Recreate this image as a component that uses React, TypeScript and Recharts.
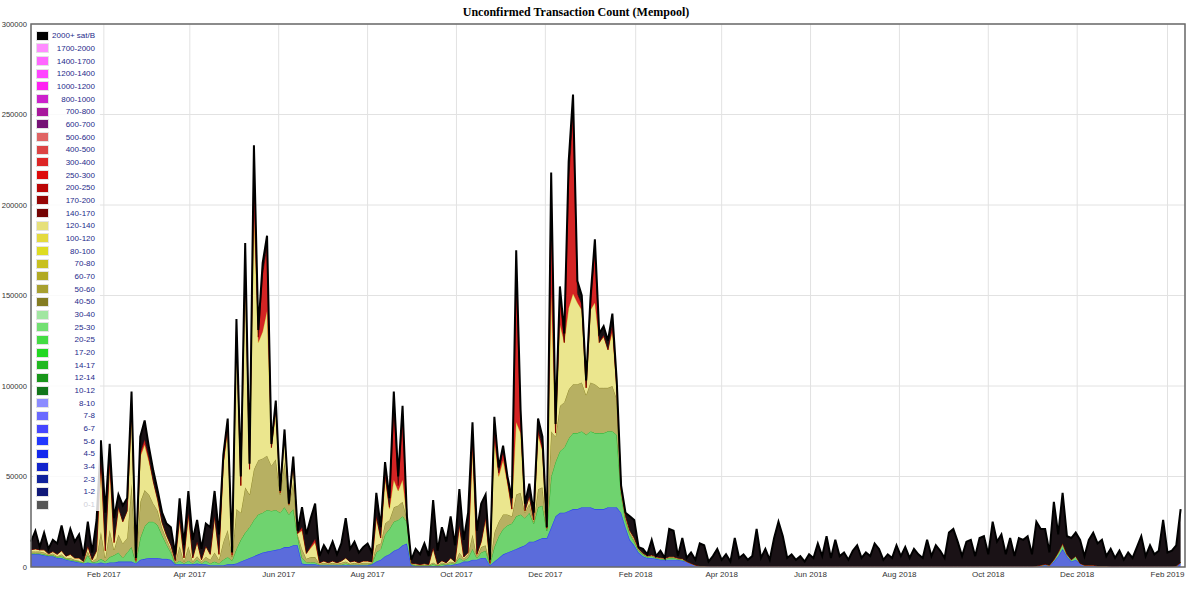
import { AreaChart, Area, XAxis, YAxis, CartesianGrid, ReferenceArea } from "recharts";

// Mempool size, sampled every 3 days from 13 Dec 2016. Values in thousands of tx.
const START = Date.UTC(2016, 11, 13);
const STEP_DAYS = 3;
const DOMAIN_DAYS = 792;

const TOTAL = [
  14, 20, 11, 19, 10, 15, 13, 23, 12, 21,
  14, 18, 6, 25, 8, 26, 70, 30, 68, 27,
  40, 34, 38, 97, 5, 72, 81, 66, 53, 42,
  30, 24, 22, 7, 38, 12, 42, 15, 26, 10,
  24, 22, 42, 18, 62, 82, 8, 137, 50, 179,
  57, 233, 131, 168, 183, 68, 92, 42, 76, 35,
  61, 20, 33, 18, 27, 35, 6, 12, 8, 14,
  7, 13, 27, 10, 14, 8, 11, 13, 8, 41,
  22, 58, 38, 97, 50, 89, 28, 4, 10, 7,
  13, 6, 37, 9, 22, 14, 28, 12, 43, 15,
  30, 80, 20, 35, 40, 4, 83, 55, 67, 50,
  38, 175, 87, 35, 46, 30, 82, 72, 22, 218,
  79, 155, 129, 224, 261, 158, 150, 103, 149, 181,
  129, 133, 125, 140, 103, 45, 30, 28, 26, 11,
  10, 7, 15, 6, 9, 5, 21, 20, 6, 16,
  5, 8, 4, 13, 12, 3, 6, 10, 4, 7,
  3, 16, 5, 7, 4, 6, 21, 5, 10, 4,
  16, 25, 17, 5, 7, 4, 6, 3, 7, 5,
  13, 6, 17, 5, 15, 6, 8, 4, 9, 12,
  5, 8, 6, 13, 10, 4, 7, 5, 12, 6,
  11, 5, 10, 7, 5, 15, 6, 12, 9, 5,
  19, 21, 14, 6, 14, 15, 6, 16, 17, 7,
  25, 14, 18, 7, 16, 6, 16, 15, 17, 7,
  25, 21, 21, 8, 36, 18, 41, 17, 16, 19,
  15, 6, 15, 19, 13, 15, 6, 10, 5, 9,
  4, 8, 5, 11, 17, 6, 12, 7, 9, 26,
  8, 9, 12, 32,
];

// 1-10 sat/B
const BLUE = [
  7, 7, 7, 6.5, 6, 6, 5, 5, 4, 3.5,
  3, 2.5, 2, 2.5, 2, 2, 2.5, 2, 2.5, 2.5,
  3, 3, 3, 3, 2, 4, 4.5, 5, 5, 5,
  4.5, 4.5, 4, 1.5, 1.5, 1.5, 1.5, 1.5, 2, 1.5,
  1.5, 1, 1, 1, 1, 1.5, 1.5, 2, 3, 4,
  5, 6, 7, 8, 8.5, 9, 9.5, 10, 11, 11,
  12, 12, 2, 1.5, 1.5, 1.5, 1, 1, 1, 1,
  1, 1, 1, 1, 1, 1, 1, 1, 1.5, 3,
  4, 6, 7, 9, 10, 12, 13, 1, 0.5, 0.5,
  0.5, 0.5, 0.5, 0.5, 0.5, 1, 1, 1.5, 2, 3,
  3, 4, 4, 5, 5, 1, 3, 5, 7, 8,
  9, 10, 11, 12, 14, 14, 15, 16, 16, 22,
  28, 30, 30, 31, 32, 32, 33, 33, 33, 32,
  32, 32, 33, 33, 33, 30, 22, 15, 12, 8,
  6, 5, 5, 4.5, 4, 4, 4, 4, 4, 3.5,
  3, 2, 1, 0.5, 0.5, 0.3, 0.3, 0.3, 0.3, 0.3,
  0.3, 0.3, 0.3, 0.3, 0.3, 0.3, 0.3, 0.3, 0.3, 0.3,
  0.3, 0.3, 0.3, 0.3, 0.3, 0.3, 0.3, 0.3, 0.3, 0.3,
  0.3, 0.3, 0.3, 0.3, 0.3, 0.3, 0.3, 0.3, 0.3, 0.3,
  0.3, 0.3, 0.3, 0.3, 0.3, 0.3, 0.3, 0.3, 0.3, 0.3,
  0.3, 0.3, 0.3, 0.3, 0.3, 0.3, 0.3, 0.3, 0.3, 0.3,
  0.3, 0.3, 0.3, 0.3, 0.3, 0.3, 0.3, 0.3, 0.3, 0.3,
  0.3, 0.3, 0.3, 0.3, 0.3, 0.3, 0.3, 0.3, 0.3, 0.3,
  0.5, 1, 1, 1, 3, 6, 10, 6, 3, 4,
  2, 1, 1, 1, 0.5, 0.5, 0.5, 0.3, 0.3, 0.3,
  0.3, 0.3, 0.3, 0.3, 0.3, 0.3, 0.3, 0.3, 0.3, 0.3,
  0.3, 0.3, 0.5, 2,
];

// 10-40 sat/B
const GREEN = [
  0.5, 0.5, 0.5, 0.5, 0.3, 0.5, 0.5, 1, 0.5, 0.5,
  0.5, 0.5, 0.3, 4, 0.5, 1, 2, 1, 3, 4,
  5, 2, 5, 8, 0.5, 12, 18, 20, 20, 18,
  13, 8, 4, 0.5, 2, 0.5, 2, 0.5, 2, 0.5,
  2, 1, 2, 1, 3, 4, 2, 8, 12, 15,
  17, 20, 22, 22, 23, 22, 22, 20, 22, 18,
  20, 5, 3, 1, 1, 1, 0.3, 0.3, 0.3, 0.3,
  0.3, 0.3, 1, 0.3, 0.3, 0.3, 0.3, 0.3, 0.3, 5,
  6, 12, 14, 16, 16, 16, 12, 0.5, 0.3, 0.3,
  0.3, 0.3, 1, 0.3, 1, 0.3, 1, 0.3, 3, 0.5,
  2, 6, 1, 3, 4, 0.5, 8, 12, 14, 15,
  15, 18, 18, 15, 16, 10, 18, 18, 4, 28,
  30, 34, 36, 40, 42, 42, 42, 40, 42, 42,
  42, 42, 42, 42, 40, 10, 4, 3, 2, 1,
  1, 0.5, 1, 0.5, 0.5, 0.3, 1, 1, 0.3, 0.5,
  0, 0, 0, 0, 0, 0, 0, 0, 0, 0,
  0, 0, 0, 0, 0, 0, 0, 0, 0, 0,
  0, 0, 0, 0, 0, 0, 0, 0, 0, 0,
  0, 0, 0, 0, 0, 0, 0, 0, 0, 0,
  0, 0, 0, 0, 0, 0, 0, 0, 0, 0,
  0, 0, 0, 0, 0, 0, 0, 0, 0, 0,
  0, 0, 0, 0, 0, 0, 0, 0, 0, 0,
  0, 0, 0, 0, 0, 0, 0, 0, 0, 0,
  0, 0, 0.5, 0, 1, 2, 3, 1, 1, 2,
  0, 0, 0, 0, 0, 0, 0, 0, 0, 0,
  0, 0, 0, 0, 0, 0, 0, 0, 0, 0,
  0, 0, 0, 0.5,
];

// 40-80 sat/B
const OLIVE = [
  1, 1, 1, 1, 0.5, 1, 0.5, 1, 0.5, 1,
  0.5, 0.5, 0.3, 2, 0.5, 2, 15, 2, 15, 3,
  10, 8, 8, 35, 0.5, 20, 20, 15, 10, 8,
  4, 3, 2, 0.5, 8, 1, 8, 1, 2, 1,
  2, 2, 5, 2, 10, 15, 2, 22, 15, 25,
  18, 28, 30, 30, 30, 25, 28, 10, 25, 5,
  15, 1, 5, 2, 3, 3, 0.5, 1, 0.5, 1,
  0.5, 1, 1, 0.5, 1, 0.5, 1, 1, 0.5, 4,
  3, 6, 5, 8, 8, 8, 2, 0.3, 0.5, 0.3,
  0.5, 0.3, 1, 0.3, 1, 0.5, 1, 0.5, 3, 1,
  2, 8, 1, 3, 3, 0.3, 8, 8, 8, 6,
  4, 12, 12, 3, 5, 1, 10, 10, 1, 25,
  14, 25, 25, 27, 27, 27, 27, 22, 27, 27,
  25, 25, 24, 25, 20, 2, 1, 1, 1, 0.5,
  0.3, 0.3, 0.3, 0.3, 0.3, 0.3, 0.3, 0.3, 0.3, 0.3,
  0, 0, 0, 0, 0, 0, 0, 0, 0, 0,
  0, 0, 0, 0, 0, 0, 0, 0, 0, 0,
  0, 0, 0, 0, 0, 0, 0, 0, 0, 0,
  0, 0, 0, 0, 0, 0, 0, 0, 0, 0,
  0, 0, 0, 0, 0, 0, 0, 0, 0, 0,
  0, 0, 0, 0, 0, 0, 0, 0, 0, 0,
  0, 0, 0, 0, 0, 0, 0, 0, 0, 0,
  0, 0, 0, 0, 0, 0, 0, 0, 0, 0,
  0, 0, 0, 0, 0, 0, 0, 0, 0, 0,
  0, 0, 0, 0, 0, 0, 0, 0, 0, 0,
  0, 0, 0, 0, 0, 0, 0, 0, 0, 0,
  0, 0, 0, 0,
];

// 80-140 sat/B
const YELLOW = [
  1, 1.5, 1, 1.5, 0.5, 1, 1, 2, 1, 2,
  1, 1.5, 0.5, 3, 1, 4, 40, 4, 38, 4,
  15, 12, 15, 40, 0.5, 25, 25, 18, 12, 6,
  3, 2, 2, 1, 15, 2, 18, 2, 8, 1,
  6, 3, 20, 3, 42, 55, 1, 95, 15, 120,
  14, 140, 65, 70, 80, 10, 25, 1, 15, 0.5,
  10, 0.5, 10, 3, 5, 8, 0.5, 1, 0.5, 1,
  0.5, 1, 2, 1, 1, 0.5, 1, 1, 0.5, 15,
  3, 25, 6, 15, 8, 12, 0.5, 0.3, 0.5, 0.3,
  0.5, 0.3, 8, 0.5, 1, 0.5, 2, 0.5, 15, 1,
  1, 50, 1, 3, 15, 0.3, 50, 25, 30, 17,
  4, 40, 33, 1, 4, 1, 30, 20, 0.5, 75,
  2, 45, 33, 45, 50, 45, 40, 4, 40, 45,
  25, 28, 21, 30, 6, 1, 1, 1, 1, 0.5,
  0.3, 0.3, 0.3, 0.3, 0.3, 0.3, 0.3, 0.3, 0.3, 0.3,
  0, 0, 0, 0, 0, 0, 0, 0, 0, 0,
  0, 0, 0, 0, 0, 0, 0, 0, 0, 0,
  0, 0, 0, 0, 0, 0, 0, 0, 0, 0,
  0, 0, 0, 0, 0, 0, 0, 0, 0, 0,
  0, 0, 0, 0, 0, 0, 0, 0, 0, 0,
  0, 0, 0, 0, 0, 0, 0, 0, 0, 0,
  0, 0, 0, 0, 0, 0, 0, 0, 0, 0,
  0, 0, 0, 0, 0, 0, 0, 0, 0, 0,
  0, 0, 0, 0, 0, 0, 0, 0, 0, 0,
  0, 0, 0, 0, 0, 0, 0, 0, 0, 0,
  0, 0, 0, 0, 0, 0, 0, 0, 0, 0,
  0, 0, 0, 0,
];

// 140-800 sat/B
const RED = [
  0, 0, 0, 0, 0, 0, 0, 0, 0, 0,
  0, 0, 0, 0, 0, 0, 0, 0, 0, 0,
  0, 0, 0, 3, 0, 2, 3, 2, 0, 0,
  0, 0, 0, 0, 0, 0, 0, 0, 0, 0,
  0, 0, 0, 0, 2, 3, 0, 3, 0, 5,
  0, 30, 3, 32, 36, 0, 5, 0, 1, 0,
  1, 0, 2, 0, 1, 2, 0, 0, 0, 0,
  0, 0, 0, 0, 0, 0, 0, 0, 0, 1,
  0, 2, 1, 40, 3, 35, 0, 0, 0, 0,
  0, 0, 0, 0, 0, 0, 0, 0, 0, 0,
  0, 2, 0, 0, 0, 0, 10, 2, 5, 2,
  0, 80, 10, 0, 0, 0, 3, 2, 0, 60,
  0, 15, 0, 70, 100, 5, 3, 0, 2, 28,
  0, 1, 0, 4, 0, 0, 0, 0, 0, 0,
  0, 0, 0, 0, 0, 0, 0, 0, 0, 0,
  0, 0, 0, 0, 0, 0, 0, 0, 0, 0,
  0, 0, 0, 0, 0, 0, 0, 0, 0, 0,
  0, 0, 0, 0, 0, 0, 0, 0, 0, 0,
  0, 0, 0, 0, 0, 0, 0, 0, 0, 0,
  0, 0, 0, 0, 0, 0, 0, 0, 0, 0,
  0, 0, 0, 0, 0, 0, 0, 0, 0, 0,
  0, 0, 0, 0, 0, 0, 0, 0, 0, 0,
  0, 0, 0, 0, 0, 0, 0, 0, 0, 0,
  0, 0, 0, 0, 0, 0, 0, 0, 0, 0,
  0, 0, 0, 0, 0, 0, 0, 0, 0, 0,
  0, 0, 0, 0, 0, 0, 0, 0, 0, 0,
  0, 0, 0, 0,
];

const TICK_MONTHS = [
  [2017, 2], [2017, 4], [2017, 6], [2017, 8], [2017, 10], [2017, 12],
  [2018, 2], [2018, 4], [2018, 6], [2018, 8], [2018, 10], [2018, 12],
  [2019, 2],
];
const TICK_LABELS = [
  "Feb 2017", "Apr 2017", "Jun 2017", "Aug 2017", "Oct 2017", "Dec 2017",
  "Feb 2018", "Apr 2018", "Jun 2018", "Aug 2018", "Oct 2018", "Dec 2018",
  "Feb 2019",
];
const Y_TICKS = [0, 50000, 100000, 150000, 200000, 250000, 300000];

const LEGEND_NAMES = [
  "2000+ sat/B", "1700-2000", "1400-1700", "1200-1400", "1000-1200", "800-1000",
  "700-800", "600-700", "500-600", "400-500", "300-400", "250-300", "200-250",
  "170-200", "140-170", "120-140", "100-120", "80-100", "70-80", "60-70",
  "50-60", "40-50", "30-40", "25-30", "20-25", "17-20", "14-17", "12-14",
  "10-12", "8-10", "7-8", "6-7", "5-6", "4-5", "3-4", "2-3", "1-2", "0-1",
];
const LEGEND_COLORS = [
  "#000000", "#ff8cff", "#ff66ff", "#ff44ff", "#ff22f2", "#cc22cc",
  "#a8189c", "#761276", "#e06464", "#dc4444", "#dd2626", "#dd0a0a", "#bb0606",
  "#960606", "#740404", "#e6e07a", "#e4da3e", "#dedc22", "#c8c020", "#b2aa24",
  "#a8a030", "#847c22", "#a2e6a2", "#72e072", "#44dc44", "#22d822", "#22b822",
  "#18961a", "#12761a", "#8c8cff", "#6a6aff", "#4646ff", "#2238ff", "#1428ee",
  "#1224cc", "#10229c", "#101878", "#555555",
];
const LEGEND_HIDDEN = ["0-1"];

const tickDays = TICK_MONTHS.map(
  ([y, m]) => (Date.UTC(y, m - 1, 1) - START) / 86400000
);
const labelFor = (day: number) => TICK_LABELS[tickDays.indexOf(day)] ?? "";

const data = TOTAL.map((t, i) => {
  const low = BLUE[i] + GREEN[i] + OLIVE[i] + YELLOW[i] + RED[i];
  return {
    day: i * STEP_DAYS,
    blue: BLUE[i] * 1000,
    green: GREEN[i] * 1000,
    olive: OLIVE[i] * 1000,
    yellow: YELLOW[i] * 1000,
    red: RED[i] * 1000,
    top: Math.max(0, t - low) * 1000,
  };
});

const BANDS = [
  { key: "blue", fill: "#5b6cdb", stroke: "#2a48f0", width: 1.2 },
  { key: "green", fill: "#6fd36f", stroke: "#2fae2f", width: 1 },
  { key: "olive", fill: "#b7b062", stroke: "#8f8828", width: 1 },
  { key: "yellow", fill: "#ebe68e", stroke: "#dcd23c", width: 1 },
  { key: "red", fill: "#d42424", stroke: "#990000", width: 1 },
  { key: "top", fill: "#1a1216", stroke: "#000000", width: 2 },
];

const AXIS_FONT = "'Liberation Sans', Arial, sans-serif";

function MempoolLegend() {
  return (
    <div
      style={{
        position: "absolute",
        left: 33,
        top: 29.4,
        width: 67,
        background: "rgba(255,255,255,0.82)",
        fontFamily: AXIS_FONT,
        fontSize: 8,
      }}
    >
      {LEGEND_NAMES.map((name, i) => {
        const hidden = LEGEND_HIDDEN.includes(name);
        return (
          <div
            key={name}
            style={{ height: 12.68, display: "flex", alignItems: "center" }}
          >
            <span
              style={{
                marginLeft: 4,
                width: 11,
                height: 8,
                background: LEGEND_COLORS[i],
                boxShadow: "0 0 0 1px #e4e4e4",
              }}
            />
            <span
              style={{
                flex: 1,
                textAlign: "right",
                paddingRight: 5,
                color: hidden ? "#cfcfd8" : "#1e2a8a",
                whiteSpace: "nowrap",
              }}
            >
              {name}
            </span>
          </div>
        );
      })}
    </div>
  );
}

export default function App() {
  return (
    <div
      style={{
        position: "fixed",
        left: 0,
        top: 0,
        width: 1200,
        height: 589,
        background: "#fff",
      }}
    >
      <div
        style={{
          position: "absolute",
          top: 5,
          left: 0,
          width: 1152,
          textAlign: "center",
          fontFamily: "'Liberation Serif', 'Times New Roman', serif",
          fontWeight: "bold",
          fontSize: 12,
          lineHeight: "14px",
          color: "#000",
        }}
      >
        Unconfirmed Transaction Count (Mempool)
      </div>
      <AreaChart
        width={1200}
        height={589}
        data={data}
        margin={{ top: 24, right: 15, bottom: 0, left: 3 }}
        style={{ overflow: "visible" }}
      >
        <CartesianGrid stroke="#e2e2e2" />
        <XAxis
          dataKey="day"
          type="number"
          domain={[0, DOMAIN_DAYS]}
          ticks={tickDays}
          interval={0}
          tickFormatter={labelFor}
          height={22}
          axisLine={false}
          tickLine={false}
          tickSize={0}
          tickMargin={4}
          tick={{ fontSize: 8, fill: "#333", fontFamily: AXIS_FONT }}
        />
        <YAxis
          type="number"
          domain={[0, 300000]}
          ticks={Y_TICKS}
          interval={0}
          width={28}
          axisLine={false}
          tickLine={false}
          tickSize={0}
          tickMargin={4}
          tick={{ fontSize: 7.6, fill: "#333", fontFamily: AXIS_FONT }}
        />
        {BANDS.map((b) => (
          <Area
            key={b.key}
            dataKey={b.key}
            stackId="mempool"
            type="linear"
            fill={b.fill}
            fillOpacity={1}
            stroke={b.stroke}
            strokeWidth={b.width}
            dot={false}
            activeDot={false}
            isAnimationActive={false}
          />
        ))}
        <ReferenceArea
          x1={0}
          x2={DOMAIN_DAYS}
          y1={0}
          y2={300000}
          fill="none"
          stroke="#6a6a6a"
          strokeWidth={1.5}
        />
      </AreaChart>
      <MempoolLegend />
    </div>
  );
}
